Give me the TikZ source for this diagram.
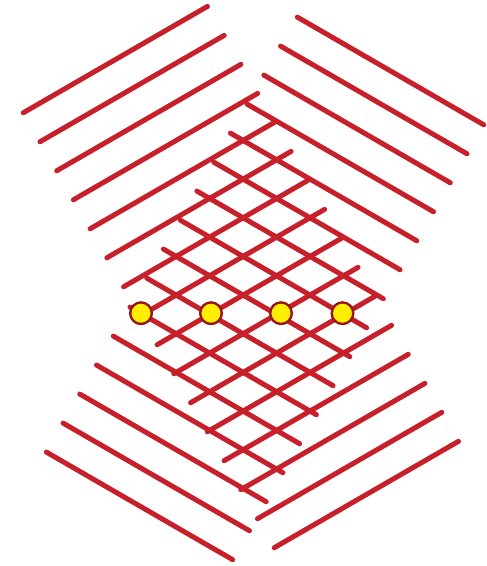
\documentclass[tikz,border=0pt]{standalone}
\definecolor{linered}{RGB}{200,32,42}
\definecolor{dotfill}{RGB}{255,238,0}
\definecolor{dotedge}{RGB}{150,22,26}
\tikzset{
  redline/.style={draw=linered, line width=5pt, line cap=round},
  dotnode/.style={circle, fill=dotfill, draw=dotedge, line width=2.4pt, minimum size=21.6pt, inner sep=0pt}
}
\begin{document}
\begin{tikzpicture}[x=1pt,y=1pt]
\useasboundingbox (0,0) rectangle (487,-566);
\begin{scope}[shift={(243.1pt,52.85pt)}, x={(33.47pt,-19.33pt)}, y={(-33.47pt,-19.33pt)}]
  % family A (rising to the right)
  \foreach \i in {1,...,16}
    \draw[redline] (\i,{7.07+\i/2}) -- (\i,{1.565+\i/2});
  % family B (falling to the right)
  \foreach \j in {1,...,16}
    \draw[redline] ({2.12+\j/2},\j) -- ({7.69+\j/2},\j);
\end{scope}
% points on the middle row
\node[dotnode] (d1) at (141,-313.2) {};
\node[dotnode] (d2) at (211,-313.2) {};
\node[dotnode] (d3) at (281,-313.2) {};
\node[dotnode] (d4) at (342.5,-313.2) {};
\end{tikzpicture}
\end{document}
